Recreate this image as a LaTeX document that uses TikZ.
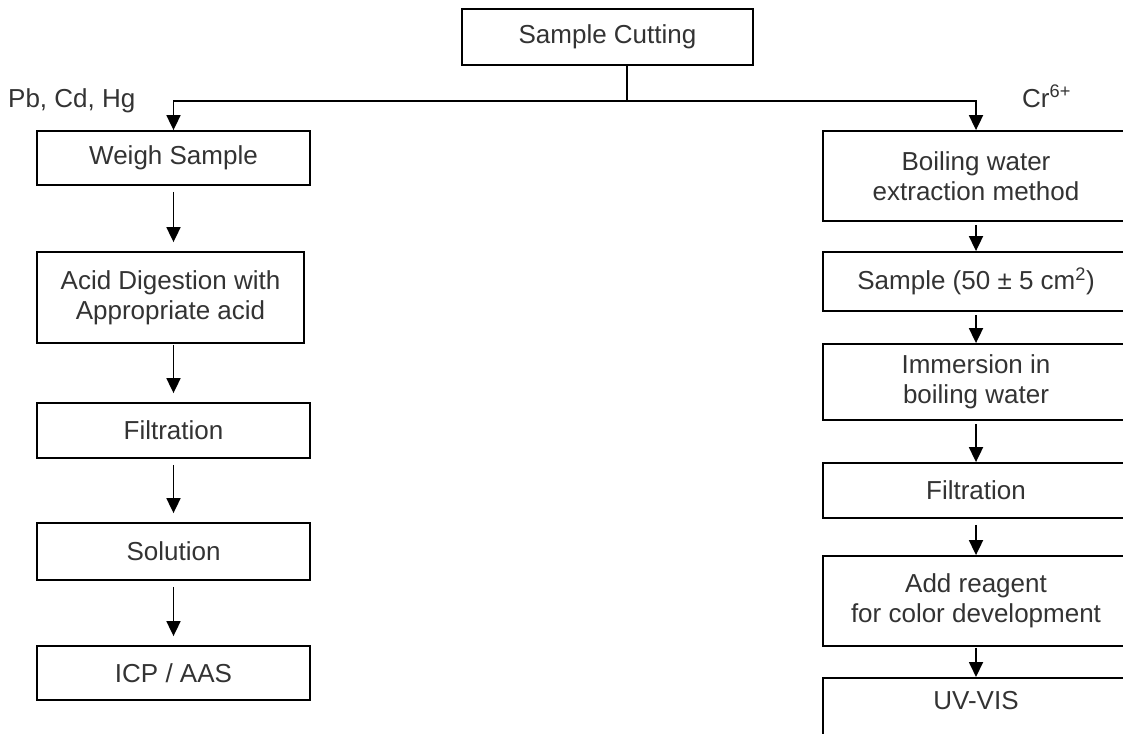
\documentclass[tikz,border=0pt]{standalone}
\usepackage{fontspec}
\setmainfont{Liberation Sans}
\usetikzlibrary{arrows.meta}
\definecolor{txt}{HTML}{333333}
\tikzset{
  box/.style={draw=black, line width=1.8pt, inner sep=0pt, align=center, text=txt,
    font=\fontsize{26}{30}\selectfont},
  lbox/.style={box, minimum width=273pt},
  rbox/.style={box, minimum width=306pt},
  lbl/.style={text=txt, inner sep=0pt, font=\fontsize{26}{30}\selectfont},
  arr/.style={line width=1.8pt, -{Triangle[width=14pt,length=15pt]}},
  link/.style={line width=1.8pt}
}
\begin{document}
\begin{tikzpicture}[x=1pt,y=-1pt]
\useasboundingbox (0,0) rectangle (1123,733);
\fill[white] (0,0) rectangle (1123,733);
\clip (0,0) rectangle (1123,733);

% top
\node[box, minimum width=291pt, minimum height=56pt] (cut) at (607.5,37) {Sample Cutting};
\coordinate (split) at (627,101);

% left column
\node[lbox, minimum height=54pt] (weigh) at (173.5,158) {Weigh Sample};
\node[box, minimum width=267pt, minimum height=91pt] (acid) at (170.5,297.5) {Acid Digestion with\\Appropriate acid};
\node[lbox, minimum height=55pt] (lfilt) at (173.5,430.5) {Filtration};
\node[lbox, minimum height=57pt] (sol) at (173.5,551.5) {Solution};
\node[lbox, minimum height=54pt] (icp) at (173.5,673) {ICP / AAS};

% right column
\node[rbox, minimum height=90pt] (boil) at (976,176) {Boiling water\\extraction method};
\node[rbox, minimum height=59pt] (samp) at (976,281.5) {Sample (50 ± 5 cm\textsuperscript{2})};
\node[rbox, minimum height=76pt] (imm) at (976,382) {Immersion in\\boiling water};
\node[rbox, minimum height=55pt] (rfilt) at (976,490.5) {Filtration};
\node[rbox, minimum height=90pt] (reag) at (976,601) {Add reagent\\for color development};
\node[rbox, anchor=north, text height=32pt, text depth=80pt] (uv) at (976,677) {UV-VIS};

% labels
\node[lbl, anchor=base west] (pb) at (8,107) {Pb, Cd, Hg};
\node[lbl, anchor=base west] (cr) at (1022,107) {Cr\textsuperscript{6+}};

% connectors
\draw[link] (cut.south -| split) -- (split);
\draw[arr] (split) -| (weigh.north);
\draw[arr] (split) -| (boil.north);

\draw[arr, shorten <=6pt, shorten >=9pt] (weigh.south) -- (weigh.south |- acid.north);
\draw[arr, shorten <=1pt, shorten >=9pt] (weigh.south |- acid.south) -- (lfilt.north);
\draw[arr, shorten <=6pt, shorten >=9pt] (lfilt.south) -- (sol.north);
\draw[arr, shorten <=6pt, shorten >=9pt] (sol.south) -- (icp.north);

\draw[arr, shorten <=3pt] (boil.south) -- (samp.north);
\draw[arr, shorten <=3pt] (samp.south) -- (imm.north);
\draw[arr, shorten <=3pt] (imm.south) -- (rfilt.north);
\draw[arr, shorten <=6pt] (rfilt.south) -- (reag.north);
\draw[arr, shorten <=1pt] (reag.south) -- (uv.north);
\end{tikzpicture}
\end{document}
